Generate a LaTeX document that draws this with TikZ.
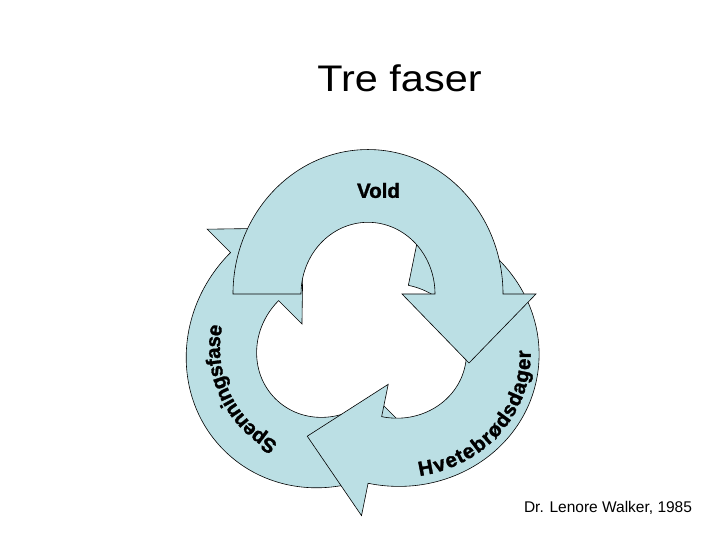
\documentclass[tikz,border=0pt]{standalone}
\usepackage{fontspec}
\setmainfont{Liberation Sans}
\newfontfamily\phaseheavy{Liberation Sans}[FakeBold=1.5]
\usetikzlibrary{calc}
\definecolor{phasefill}{RGB}{187,223,228}
\tikzset{
  phase/.style={fill=phasefill,draw=black,line width=0.6pt,line join=miter},
  phaseletter/.style={font=\phaseheavy\bfseries\fontsize{20.5}{24}\selectfont,inner sep=0pt,anchor=base}
}
\begin{document}
\begin{tikzpicture}[x=1pt,y=1pt]
  \useasboundingbox (0,0) rectangle (720,540);
  \coordinate (spc) at (326,192);
  \coordinate (hvc) at (395,189);
  \coordinate (voc) at (368,246);
  % spenningsfase
  \begin{scope}[shift={(spc)},rotate=135,yscale=1.07]
    \draw[phase] (-135,0) arc (180:0:135) -- (168,0) -- (101,-64.5) -- (34,0) -- (67,0) arc (0:180:67) -- cycle;
  \end{scope}
  % hvetebrodsdager
  \begin{scope}[shift={(hvc)},rotate=-101.5,yscale=1.07]
    \draw[phase] (-135,0) arc (180:0:135) -- (168,0) -- (101,-64.5) -- (34,0) -- (67,0) arc (0:180:67) -- cycle;
  \end{scope}
  % vold
  \begin{scope}[shift={(voc)},yscale=1.07]
    \draw[phase] (-135,0) arc (180:0:135) -- (168,0) -- (101,-64.5) -- (34,0) -- (67,0) arc (0:180:67) -- cycle;
  \end{scope}
  \node[phaseletter,anchor=center] (vold) at (378.5,349.5) {Vold};
  % letters along the arcs
  \xdef\phasepos{0}
  \foreach \ch/\w [count=\i] in {S/.667,p/.611,e/.556,n/.611,n/.611,i/.278,n/.611,g/.611,s/.556,f/.333,a/.556,s/.556,e/.556} {
    \pgfmathsetmacro\ang{243-75*(\phasepos+\w/2)/7.113}
    \pgfmathsetmacro\rot{\ang-90}
    \node[phaseletter,rotate=\rot] (sp\i) at ($(spc)+(\ang:106)$) {\ch};
    \pgfmathsetmacro\nextpos{\phasepos+\w}
    \xdef\phasepos{\nextpos}
  }
  \begin{scope}[shift={(hvc)},rotate=-11.5]
    \xdef\phasepos{0}
    \foreach \ch/\w [count=\i] in {H/.722,v/.556,e/.556,t/.333,e/.556,b/.611,r/.389,ø/.611,d/.611,s/.556,d/.611,a/.556,g/.611,e/.556,r/.389} {
      \pgfmathsetmacro\ang{-69.3+82.1*(\phasepos+\w/2)/8.224}
      \pgfmathsetmacro\rot{atan2(126*cos(\ang),-136*sin(\ang))-11.5}
      \node[phaseletter,rotate=\rot] (hv\i) at (\ang:136 and 126) {\ch};
      \pgfmathsetmacro\nextpos{\phasepos+\w}
      \xdef\phasepos{\nextpos}
    }
  \end{scope}
  \node[xscale=1.12] (title) at (399.5,462) {\fontsize{37}{44}\selectfont Tre faser};
  \node (credit) at (608,32) {\fontsize{15.5}{18}\selectfont Dr. Lenore Walker, 1985};
\end{tikzpicture}
\end{document}
